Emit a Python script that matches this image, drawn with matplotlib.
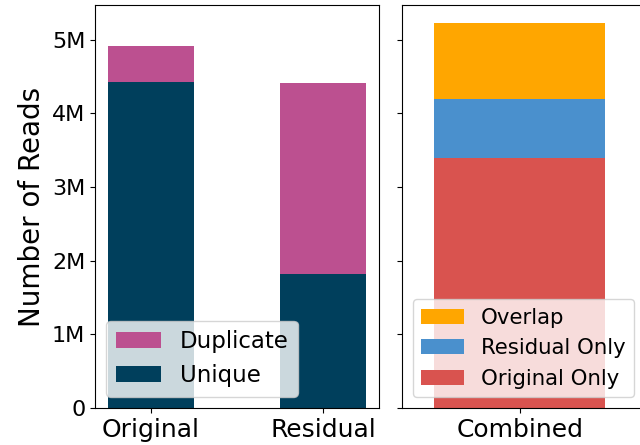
import matplotlib.pyplot as plt
from matplotlib.ticker import FuncFormatter

# read counts per library (millions)
libraries = ['Original', 'Residual']
unique_reads = [4.43, 1.82]
duplicate_reads = [0.48, 2.59]

combined_label = ['Combined']
original_only = [3.39]
residual_only = [0.80]
overlap = [1.03]

c_unique = '#003f5c'
c_dup = '#bc5090'
c_orig = '#d9534f'
c_resid = '#4a90cd'
c_overlap = '#ffa600'


def millions(v, pos):
    if v == 0:
        return '0'
    return f'{v:g}M'


fig = plt.figure(figsize=(6.4, 4.45), dpi=100)
ax1 = fig.add_axes([95 / 640, 1 - 408 / 445, 284 / 640, 403 / 445])
ax2 = fig.add_axes([402 / 640, 1 - 408 / 445, 240 / 640, 403 / 445], sharey=ax1)

x = range(len(libraries))
ax1.bar(x, unique_reads, width=0.5, color=c_unique, label='Unique')
ax1.bar(x, duplicate_reads, width=0.5, bottom=unique_reads, color=c_dup, label='Duplicate')
ax1.set_xticks(list(x))
ax1.set_xticklabels(libraries, fontsize=18)
ax1.set_xlim(-0.325, 1.325)
ax1.set_ylabel('Number of Reads', fontsize=20)
ax1.yaxis.set_major_formatter(FuncFormatter(millions))
ax1.tick_params(axis='y', labelsize=16)
handles, labels = ax1.get_legend_handles_labels()
ax1.legend(handles[::-1], labels[::-1], loc='lower left', fontsize=16.5)

bottom2 = [a + b for a, b in zip(original_only, residual_only)]
ax2.bar(combined_label, original_only, width=0.5, color=c_orig, label='Original Only')
ax2.bar(combined_label, residual_only, width=0.5, bottom=original_only, color=c_resid, label='Residual Only')
ax2.bar(combined_label, overlap, width=0.5, bottom=bottom2, color=c_overlap, label='Overlap')
ax2.set_xlim(-0.345, 0.357)
ax2.tick_params(axis='x', labelsize=18)
ax2.tick_params(axis='y', labelleft=False)
handles, labels = ax2.get_legend_handles_labels()
ax2.legend(handles[::-1], labels[::-1], loc='lower left', fontsize=15.3)

ax1.set_ylim(0, 5.47)

fig.savefig('out.png', dpi=100)
